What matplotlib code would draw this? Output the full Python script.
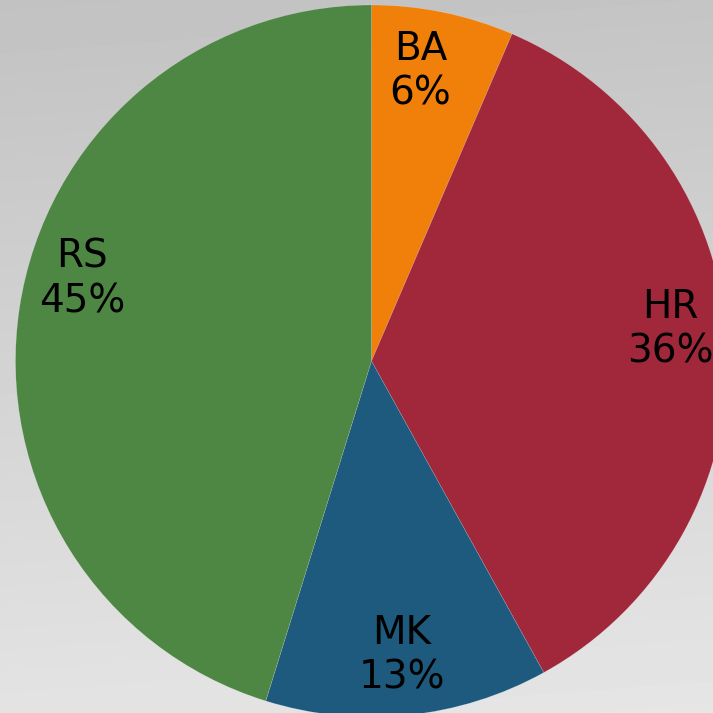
import numpy as np
import matplotlib
matplotlib.use("Agg")
import matplotlib.pyplot as plt

categories = ["BA", "HR", "MK", "RS"]
values = [6.46, 35.50, 12.84, 45.20]
pct_labels = ["6%", "36%", "13%", "45%"]
colors = ["#F0800A", "#A0283A", "#1E5A7D", "#4E8744"]

W = H = 713
fig = plt.figure(figsize=(W / 100, H / 100), dpi=100)

# background gradient
bg = fig.add_axes([0, 0, 1, 1], zorder=0)
yy, xx = np.mgrid[0:1:200j, 0:1:200j]
grad = 0.76 + 0.13 * yy + 0.01 * xx
bg.imshow(grad, cmap="gray", vmin=0, vmax=1, extent=[0, 1, 0, 1],
          origin="upper", aspect="auto", interpolation="bilinear")
bg.axis("off")

ax = fig.add_axes([0, 0, 1, 1], zorder=1)
ax.patch.set_alpha(0)
cx, cy, r = 371.5, 361.0, 356.0  # pixel center (from top) and radius
wedges, _ = ax.pie(values, colors=colors, startangle=90, counterclock=False,
                   radius=1.0, wedgeprops=dict(linewidth=0.3, edgecolor=(1, 1, 1, 0.3)))
ax.set_xlim(-cx / r, (W - cx) / r)
ax.set_ylim(-(H - cy) / r, cy / r)
ax.set_aspect("equal")
ax.axis("off")

# label placement (angle offsets from wedge mid-angle, degrees) and radial distance
angle_adj = [2.0, 3.3, 0.0, -7.2]
dist = [0.825, 0.845, 0.83, 0.845]
for w, cat, pl, da, d in zip(wedges, categories, pct_labels, angle_adj, dist):
    th = np.deg2rad((w.theta1 + w.theta2) / 2 + da)
    ax.text(d * np.cos(th), d * np.sin(th), f"{cat}\n{pl}", ha="center", va="center",
            fontsize=28, color="black", family="DejaVu Sans", linespacing=1.22)

fig.savefig("out.png", dpi=100)
